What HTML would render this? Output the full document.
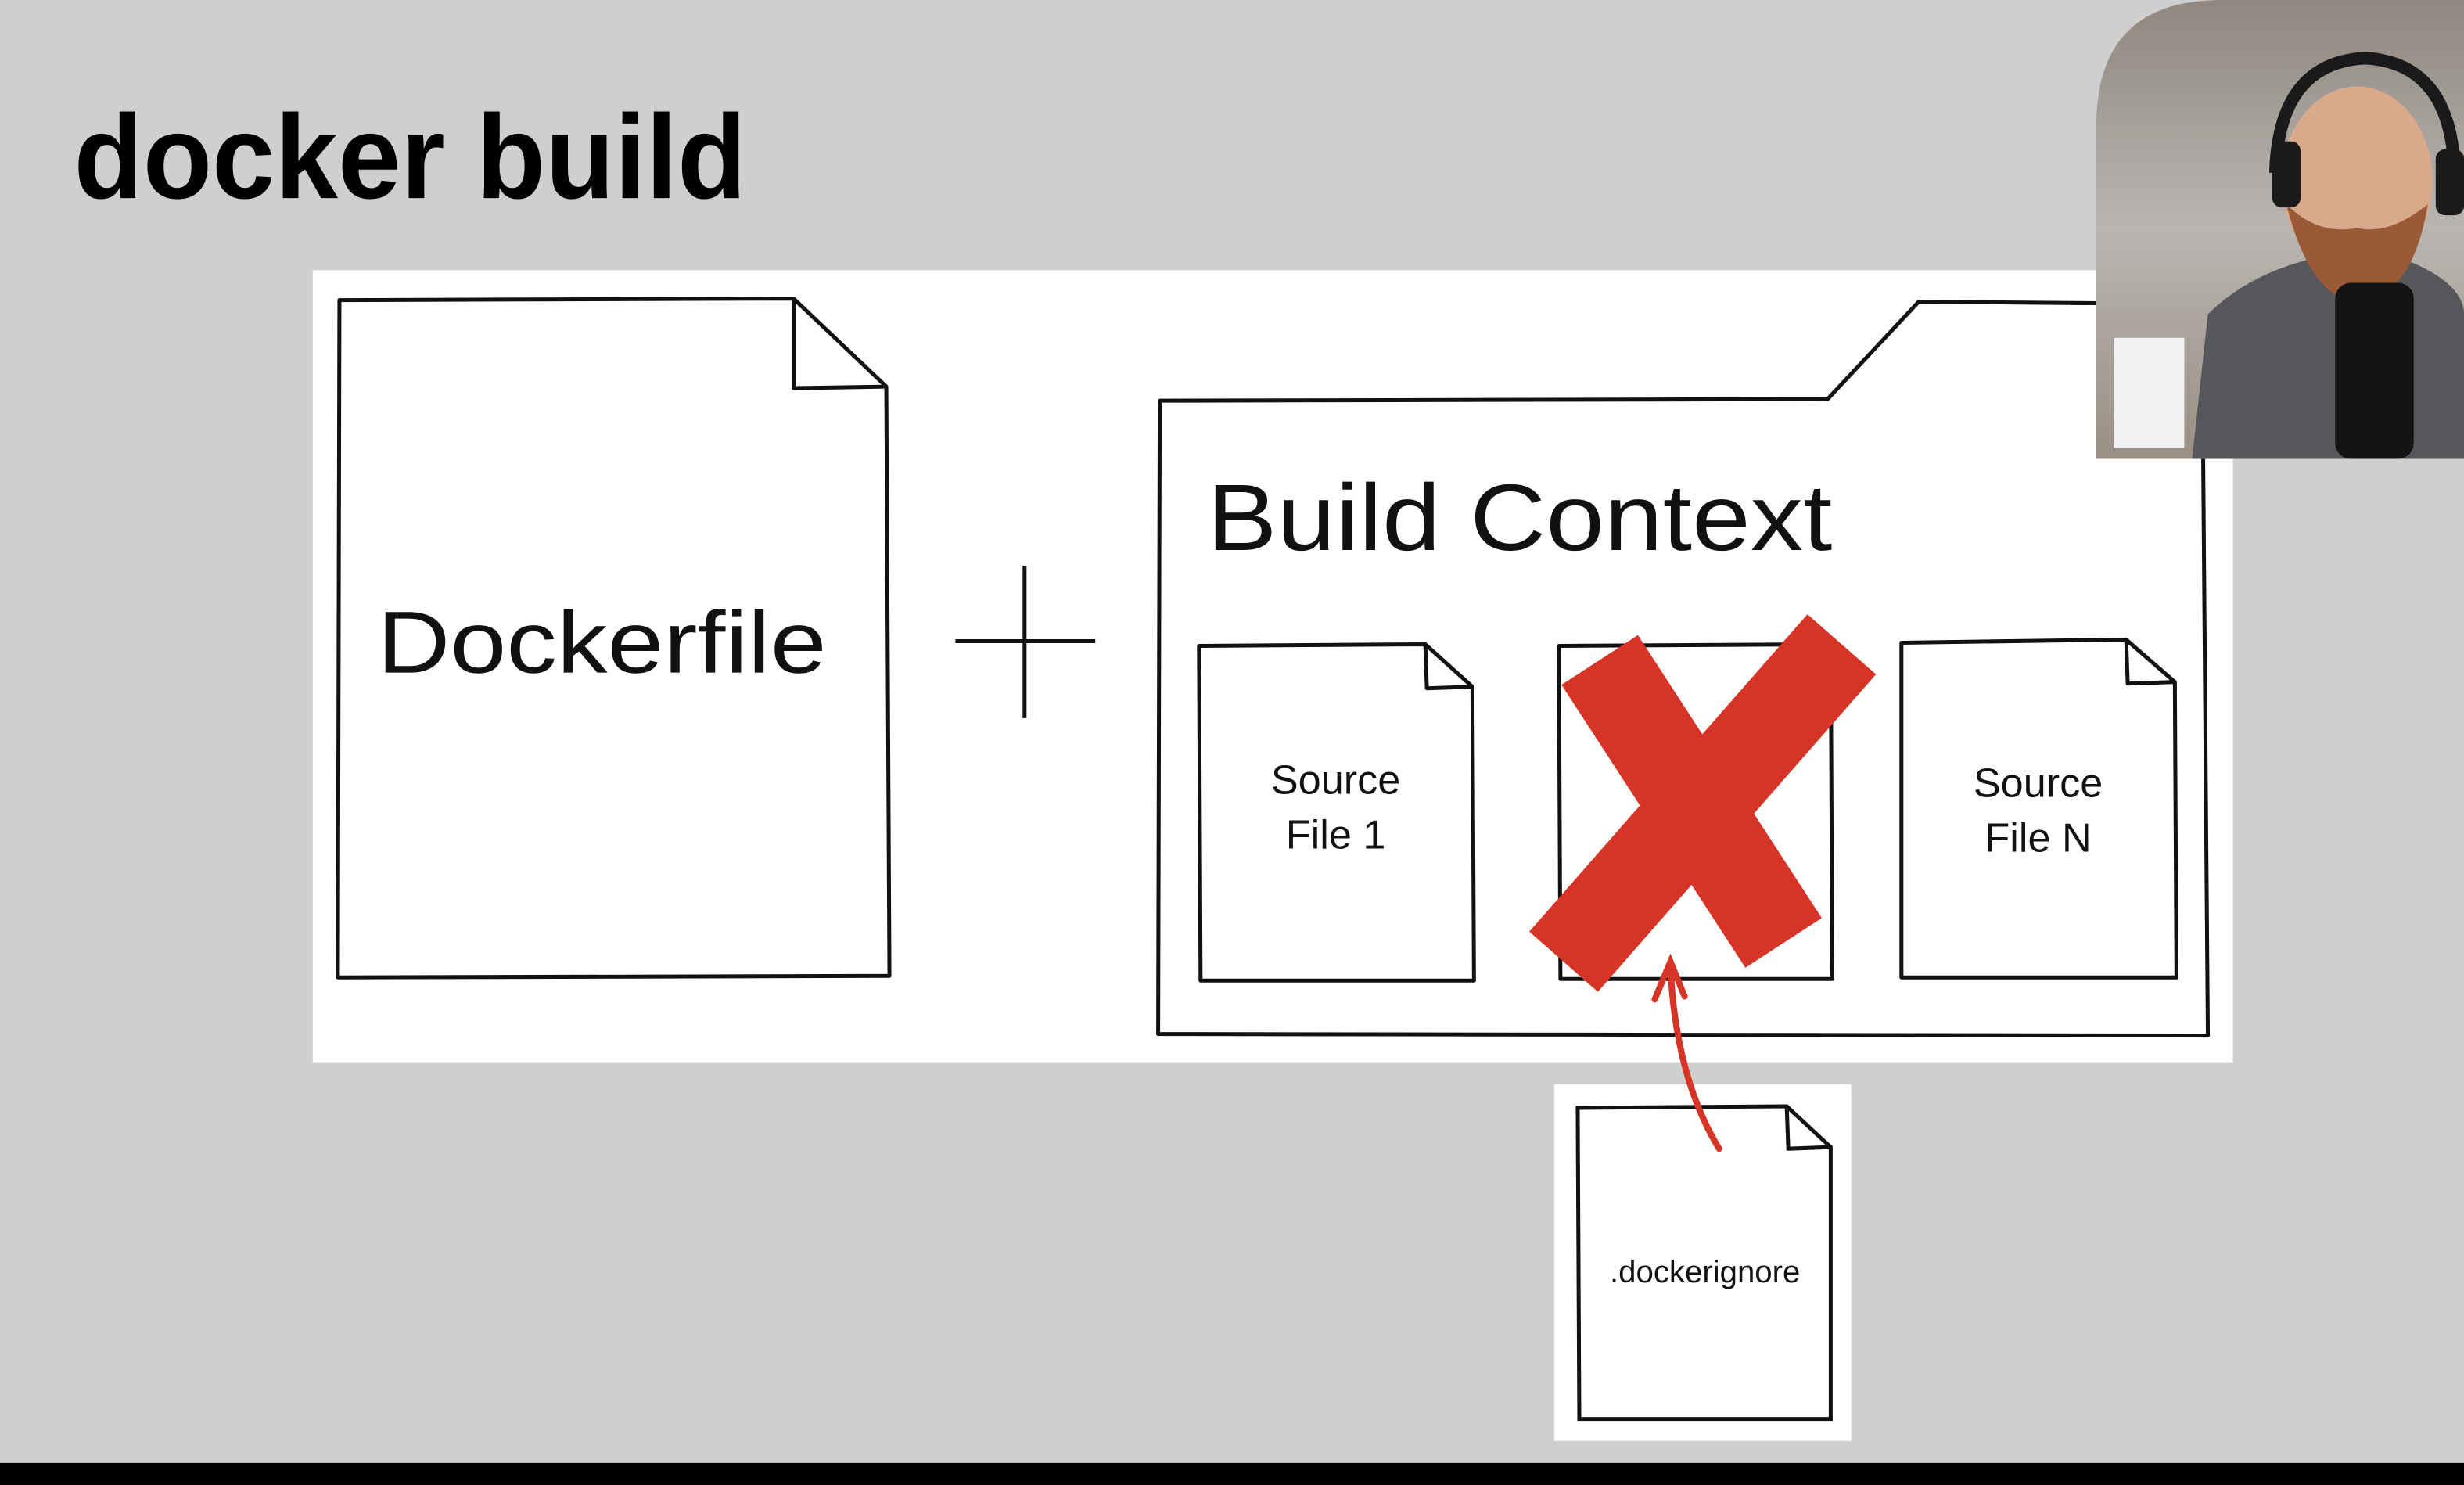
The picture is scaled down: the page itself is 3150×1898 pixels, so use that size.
<!DOCTYPE html>
<html><head><meta charset="utf-8"><style>
html,body{margin:0;padding:0;background:#cfcfcf;}
svg{display:block;}
</style></head><body>
<svg width="3150" height="1898" viewBox="0 0 1568 945" preserveAspectRatio="none" xmlns="http://www.w3.org/2000/svg">
<rect x="0" y="0" width="1568" height="945" fill="#cfcfcf"/>
<text x="47" y="126" font-family="Liberation Sans, sans-serif" font-weight="bold" font-size="76" fill="#000" textLength="428" lengthAdjust="spacingAndGlyphs">docker build</text>
<rect x="199" y="172" width="1222" height="504" fill="#fff"/>
<g fill="none" stroke="#111" stroke-width="2.5" stroke-linejoin="round">
<path d="M216,191 L505,190 L564,246 L566,621 L215,622 Z"/>
<path d="M505,190 L505,247 L564,246"/>
<path d="M608,408 L697,408 M652,360 L652,457"/>
<path d="M738,255 L1163,254 L1221,192 L1340,193 L1402,290 L1405,659 L737,658 Z"/>
<path d="M763,411 L907,410 L937,437 L938,624 L764,624 Z"/>
<path d="M907,410 L908,438 L937,437"/>
<path d="M992,411 L1165,410 L1166,623 L993,623 Z"/>
<path d="M1210,409 L1353,407 L1384,434 L1385,622 L1210,622 Z"/>
<path d="M1353,407 L1354,435 L1384,434"/>
</g>
<g font-family="Liberation Sans, sans-serif" fill="#111">
<text x="240" y="428" font-size="56" textLength="286" lengthAdjust="spacingAndGlyphs">Dockerfile</text>
<text x="768" y="350" font-size="60" textLength="398" lengthAdjust="spacingAndGlyphs">Build Context</text>
</g>
<g font-family="Liberation Sans, sans-serif" fill="#111" text-anchor="middle">
<text x="850" y="505" font-size="26">Source</text>
<text x="850" y="540" font-size="26">File 1</text>
<text x="1297" y="507" font-size="26">Source</text>
<text x="1297" y="542" font-size="26">File N</text>
</g>
<g stroke="#d63427" stroke-width="58" stroke-linecap="butt">
<line x1="1018" y1="420" x2="1135" y2="600"/>
<line x1="1172" y1="410" x2="995" y2="612"/>
</g>
<rect x="989" y="690" width="189" height="227" fill="#fff"/>
<g fill="none" stroke="#111" stroke-width="2.5">
<path d="M1004,705 L1137,704 L1165,730 L1165,903 L1005,903 Z"/>
<path d="M1137,704 L1138,731 L1165,730"/>
</g>
<text x="1085" y="816" font-family="Liberation Sans, sans-serif" font-size="20" fill="#111" text-anchor="middle">.dockerignore</text>
<g fill="none" stroke="#d63427" stroke-width="4" stroke-linecap="round">
<path d="M1094,731 C1075,700 1065,660 1063,615"/>
<path d="M1053,636 L1063,612 L1072,634"/>
</g>
<defs>
<linearGradient id="bg" x1="0" y1="0" x2="0" y2="1"><stop offset="0" stop-color="#8f8780"/><stop offset="0.5" stop-color="#b9b6b1"/><stop offset="1" stop-color="#9a8f84"/></linearGradient>
<clipPath id="cam"><path d="M1334,292 L1334,80 Q1334,0 1414,0 L1568,0 L1568,292 Z"/></clipPath>
</defs>
<g clip-path="url(#cam)">
<rect x="1334" y="0" width="234" height="292" fill="url(#bg)"/>
<rect x="1345" y="215" width="45" height="70" fill="#f2f2f2"/>
<path d="M1395,292 L1405,200 Q1430,175 1470,165 L1530,165 Q1568,180 1568,200 L1568,292 Z" fill="#56575a"/>
<ellipse cx="1500" cy="115" rx="48" ry="60" fill="#d9a98c"/>
<path d="M1455,130 Q1470,190 1500,192 Q1535,190 1545,130 Q1520,150 1500,145 Q1475,150 1455,130 Z" fill="#9a5a38"/>
<path d="M1448,110 Q1450,40 1505,37 Q1560,40 1562,110" fill="none" stroke="#1a1a1a" stroke-width="8"/>
<rect x="1446" y="90" width="18" height="42" rx="6" fill="#1a1a1a"/>
<rect x="1550" y="95" width="18" height="42" rx="6" fill="#1a1a1a"/>
<rect x="1486" y="180" width="50" height="112" rx="10" fill="#141414"/>
</g>
<rect x="0" y="931" width="1568" height="14" fill="#000"/>
</svg>
</body></html>
